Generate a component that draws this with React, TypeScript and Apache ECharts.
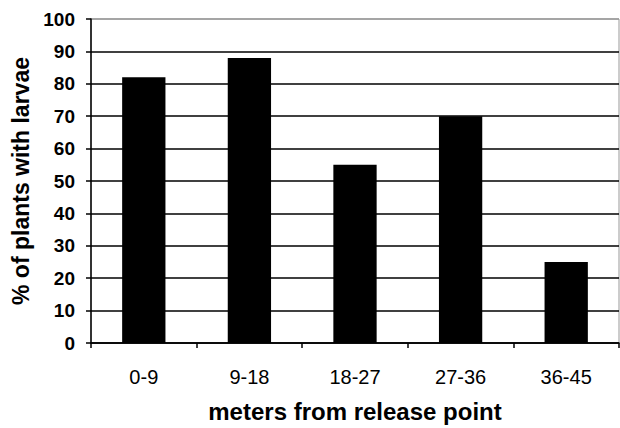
import React, { useEffect, useRef } from "react";
import * as echarts from "echarts";

const categories = ["0-9", "9-18", "18-27", "27-36", "36-45"];
const values = [82, 88, 55, 70, 25];
const yTicks = { min: 0, max: 100, interval: 10 };
const xTitle = "meters from release point";
const yTitle = "% of plants with larvae";

const FONT = "'Liberation Sans', Arial, sans-serif";

export default function App() {
  const ref = useRef<HTMLDivElement>(null);
  useEffect(() => {
    document.body.style.margin = "0";
    const chart = echarts.init(ref.current!, null, { renderer: "svg" });
    const gridColors = [
      "#000", "#000", "#000", "#000", "#000", "#000", "#000", "#000", "#000", "#000", "#999",
    ];
    chart.setOption({
      animation: false,
      backgroundColor: "#fff",
      textStyle: { fontFamily: FONT },
      grid: {
        left: 91,
        right: 1,
        top: 19,
        bottom: 83,
        show: true,
        borderColor: "#999",
        borderWidth: 1,
      },
      xAxis: {
        type: "category",
        data: categories,
        name: xTitle,
        nameLocation: "middle",
        nameGap: 56,
        nameTextStyle: { fontFamily: FONT, fontSize: 24, fontWeight: "bold", color: "#000" },
        axisLine: { lineStyle: { color: "#000", width: 1.5 } },
        axisTick: { show: true, length: 5, lineStyle: { color: "#000", width: 1.5 } },
        axisLabel: { fontFamily: FONT, fontSize: 20, color: "#000", margin: 24 },
      },
      yAxis: {
        type: "value",
        min: yTicks.min,
        max: yTicks.max,
        interval: yTicks.interval,
        name: yTitle,
        nameLocation: "middle",
        nameGap: 52,
        nameTextStyle: { fontFamily: FONT, fontSize: 23, fontWeight: "bold", color: "#000" },
        axisLine: { show: true, lineStyle: { color: "#000", width: 1.5 } },
        axisTick: { show: true, length: 5, lineStyle: { color: "#000", width: 1.5 } },
        axisLabel: { fontFamily: FONT, fontSize: 19, fontWeight: "bold", color: "#000", margin: 16 },
        splitLine: { show: true, lineStyle: { color: gridColors, width: 1.5 } },
      },
      series: [
        {
          type: "bar",
          data: values,
          barWidth: "41%",
          itemStyle: { color: "#000", borderColor: "#000", borderWidth: 0 },
        },
      ],
    });
    return () => chart.dispose();
  }, []);
  return <div ref={ref} style={{ width: 620, height: 428 }} />;
}
